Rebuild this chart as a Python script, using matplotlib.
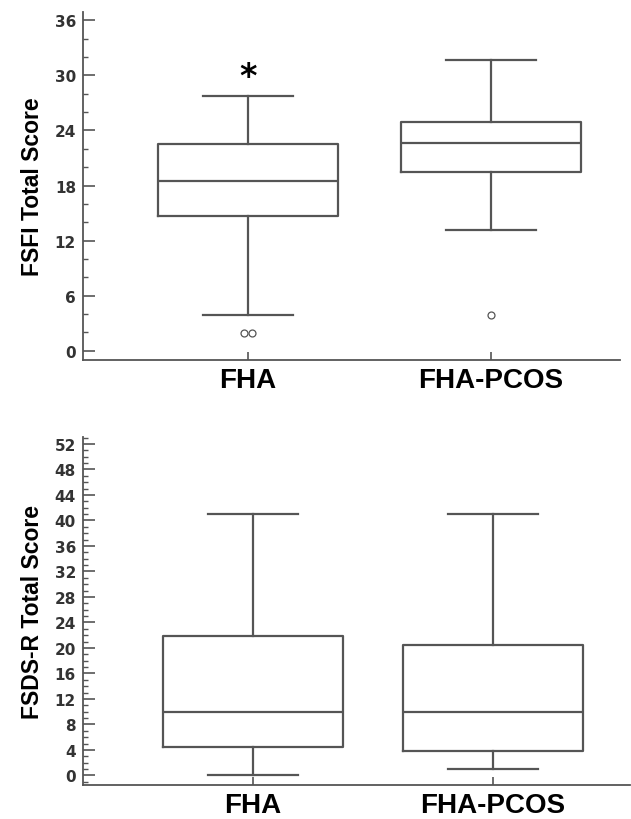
import matplotlib.pyplot as plt
from matplotlib.ticker import MultipleLocator

# Categories
groups = ["FHA", "FHA-PCOS"]

# FSFI total score box statistics
fsfi_whislo = [3.85, 13.1]
fsfi_q1 = [14.65, 19.5]
fsfi_med = [18.5, 22.6]
fsfi_q3 = [22.5, 24.9]
fsfi_whishi = [27.7, 31.7]
fsfi_fliers = [[1.9, 1.9], [3.85]]
fsfi_star = [29.9, None]

# FSDS-R total score box statistics
fsds_whislo = [0.0, 1.0]
fsds_q1 = [4.45, 3.9]
fsds_med = [9.9, 9.9]
fsds_q3 = [21.8, 20.5]
fsds_whishi = [41.0, 41.0]

LINE = "#555555"
TXT = "#333333"


def build_stats(lo, q1, med, q3, hi):
    return [dict(whislo=a, q1=b, med=c, q3=d, whishi=e, fliers=[])
            for a, b, c, d, e in zip(lo, q1, med, q3, hi)]


def style_axes(ax, major, minor, ylim, xlim, label):
    ax.set_ylim(*ylim)
    ax.set_xlim(*xlim)
    ax.yaxis.set_major_locator(MultipleLocator(major))
    ax.yaxis.set_minor_locator(MultipleLocator(minor))
    for s in ["top", "right"]:
        ax.spines[s].set_visible(False)
    for s in ["left", "bottom"]:
        ax.spines[s].set_color(LINE)
        ax.spines[s].set_linewidth(1.3)
    ax.tick_params(axis="y", which="major", direction="in", length=8.5,
                   width=1.2, color=LINE, labelsize=11, labelcolor=TXT, pad=5)
    ax.tick_params(axis="y", which="minor", direction="in", length=3.5,
                   width=1.0, color=LINE)
    ax.tick_params(axis="x", direction="in", length=6, width=1.2, color=LINE,
                   labelsize=20, pad=5)
    for t in ax.get_yticklabels():
        t.set_fontweight("bold")
    ax.set_xticks([1, 2])
    ax.set_xticklabels(groups, fontweight="bold", family="Liberation Sans")
    ax.set_ylabel(label, fontsize=16.5, fontweight="bold",
                  family="Liberation Sans", labelpad=8)


fig = plt.figure(figsize=(6.31, 8.2), dpi=100)
ax1 = fig.add_axes([0.1315, 0.5598, 0.851, 0.4244])
ax2 = fig.add_axes([0.1315, 0.0415, 0.867, 0.4244])

props = dict(color=LINE, linewidth=1.6)

ax1.bxp(build_stats(fsfi_whislo, fsfi_q1, fsfi_med, fsfi_q3, fsfi_whishi),
        positions=[1, 2], widths=0.74, capwidths=0.37, showfliers=False,
        boxprops=props, whiskerprops=props, capprops=props, medianprops=props)
for i, vals in enumerate(fsfi_fliers):
    offs = [-0.015, 0.015] if len(vals) == 2 else [0]
    ax1.plot([i + 1 + o for o in offs], vals, "o", ms=5, mfc="white",
             mec=LINE, mew=0.9, ls="none")
for i, v in enumerate(fsfi_star):
    if v is not None:
        ax1.text(i + 1, v, "*", ha="center", va="center", fontsize=24,
                 fontweight="bold", color="black")
style_axes(ax1, 6, 2, (-1, 36.9), (0.321, 2.531), "FSFI Total Score")

ax2.bxp(build_stats(fsds_whislo, fsds_q1, fsds_med, fsds_q3, fsds_whishi),
        positions=[1, 2], widths=0.75, capwidths=0.375, showfliers=False,
        boxprops=props, whiskerprops=props, capprops=props, medianprops=props)
style_axes(ax2, 4, 1, (-1.5, 53.1), (0.292, 2.57), "FSDS-R Total Score")

fig.savefig("out.png", dpi=100, facecolor="white")
